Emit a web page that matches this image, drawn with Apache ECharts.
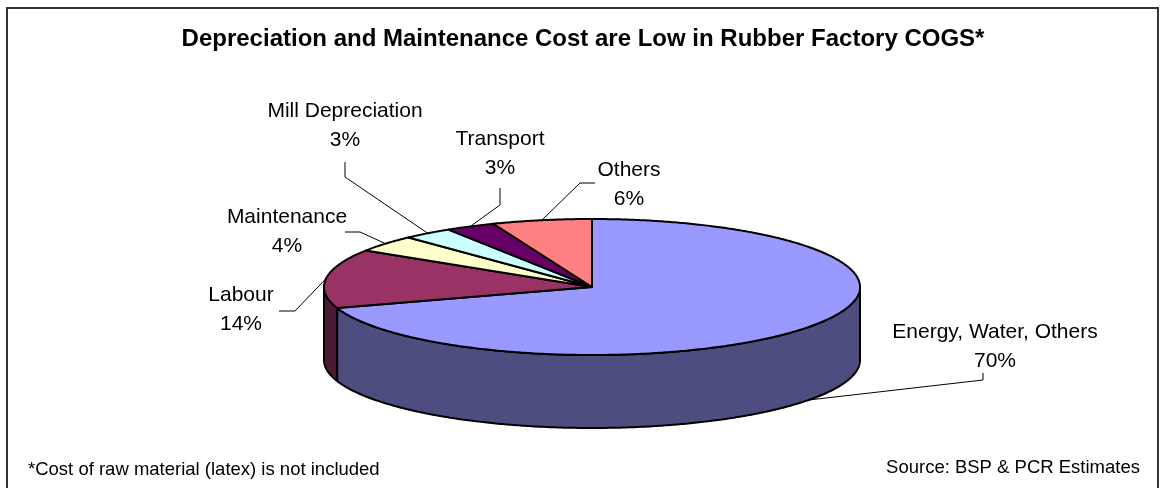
<!DOCTYPE html>
<html><head><meta charset="utf-8">
<script src="https://cdn.jsdelivr.net/npm/echarts@6/dist/echarts.min.js"></script>
<style>html,body{margin:0;padding:0;background:#fff}#c{width:1166px;height:488px}</style>
</head><body><div id="c"></div>
<script>
// ---- data ----
const categories = ['Energy, Water, Others', 'Labour', 'Maintenance', 'Mill Depreciation', 'Transport', 'Others'];
const values = [70, 14, 4, 3, 3, 6];
const titleText = 'Depreciation and Maintenance Cost are Low in Rubber Factory COGS*';
const footnoteText = '*Cost of raw material (latex) is not included';
const sourceText = 'Source: BSP & PCR Estimates';

// ---- styles / layout ----
const topColors = ['#9999FF', '#993366', '#FFFFCC', '#CCFFFF', '#660066', '#FF8080'];
const sideColors = ['#4D4D80', '#4D1A33', '#808066', '#668080', '#330033', '#804040'];
const geo = { cx: 592, cy: 287, rx: 268, ry: 68, depth: 73 };
// label centre offsets and leader-line (end, elbow) offsets relative to the pie centre
const labelLayout = [
  { text: [403, 60], end: [391, 86], elbow: [391, 93], useBottom: true },
  { text: [-351, 23], end: [-313, 24], elbow: [-297, 24] },
  { text: [-305, -55], end: [-247, -55], elbow: [-232, -55] },
  { text: [-247, -161], end: [-247, -125], elbow: [-247, -110] },
  { text: [-92, -133], end: [-92, -99], elbow: [-92, -82] },
  { text: [37, -102], end: [3, -104], elbow: [-12, -104] }
];
const FONT = '"Liberation Sans", Arial, sans-serif';

const total = values.reduce((a, b) => a + b, 0);

function pt(aDeg, dy) {
  const a = aDeg * Math.PI / 180;
  return [geo.cx + geo.rx * Math.sin(a), geo.cy - geo.ry * Math.cos(a) + (dy || 0)];
}
function arc(a0, a1, dy) {
  const pts = [];
  const n = Math.max(2, Math.ceil(Math.abs(a1 - a0) / 0.5));
  for (let i = 0; i <= n; i++) pts.push(pt(a0 + (a1 - a0) * i / n, dy));
  return pts;
}

function renderItem(params, api) {
  const idx = params.dataIndex;
  const v = api.value(0);
  let before = 0;
  for (let i = 0; i < idx; i++) before += values[i];
  const a0 = before / total * 360;
  const a1 = (before + v) / total * 360;
  const children = [];
  // side wall (front half only: 90..270 deg clockwise from top)
  const s0 = Math.max(a0, 90), s1 = Math.min(a1, 270);
  if (s0 < s1) {
    const pts = arc(s0, s1, 0).concat(arc(s1, s0, geo.depth));
    children.push({ type: 'polygon', shape: { points: pts },
      style: { fill: sideColors[idx], stroke: '#000', lineWidth: 2, lineJoin: 'round' } });
  }
  // top face
  const topPts = [[geo.cx, geo.cy]].concat(arc(a0, a1, 0));
  children.push({ type: 'polygon', shape: { points: topPts },
    style: { fill: topColors[idx], stroke: '#000', lineWidth: 2, lineJoin: 'round' } });
  // leader line + label
  const L = labelLayout[idx];
  const mid = (a0 + a1) / 2;
  const anchor = pt(mid, L.useBottom ? geo.depth : 0);
  children.push({ type: 'polyline', shape: { points: [
      [geo.cx + L.end[0], geo.cy + L.end[1]],
      [geo.cx + L.elbow[0], geo.cy + L.elbow[1]],
      anchor ] },
    style: { fill: null, stroke: '#000', lineWidth: 1 }, z2: 5 });
  children.push({ type: 'text', x: geo.cx + L.text[0], y: geo.cy + L.text[1],
    style: { text: categories[idx] + '\n' + Math.round(v / total * 100) + '%',
      align: 'center', verticalAlign: 'middle', fontSize: 21, lineHeight: 29,
      fontFamily: FONT, fill: '#000' }, z2: 10 });
  return { type: 'group', children: children };
}

const chart = echarts.init(document.getElementById('c'), null, { renderer: 'canvas' });
chart.setOption({
  backgroundColor: '#fff',
  animation: false,
  title: { text: titleText, left: 'center', top: 27, padding: 0,
    textStyle: { fontSize: 24, fontWeight: 'bold', fontFamily: FONT, color: '#000' } },
  graphic: [
    { type: 'rect', shape: { x: 7, y: 8, width: 1151, height: 495 },
      style: { fill: null, stroke: '#333', lineWidth: 2 }, silent: true },
    { type: 'text', x: 28, y: 470, style: { text: footnoteText, fontSize: 18.5, fontFamily: FONT,
      fill: '#000', verticalAlign: 'middle' } },
    { type: 'text', x: 1140, y: 468, style: { text: sourceText, fontSize: 18.5, fontFamily: FONT,
      fill: '#000', align: 'right', verticalAlign: 'middle' } }
  ],
  series: [{
    type: 'custom', coordinateSystem: 'none', silent: true,
    data: values.map(v => [v]),
    renderItem: renderItem
  }]
});
</script>
</body></html>
